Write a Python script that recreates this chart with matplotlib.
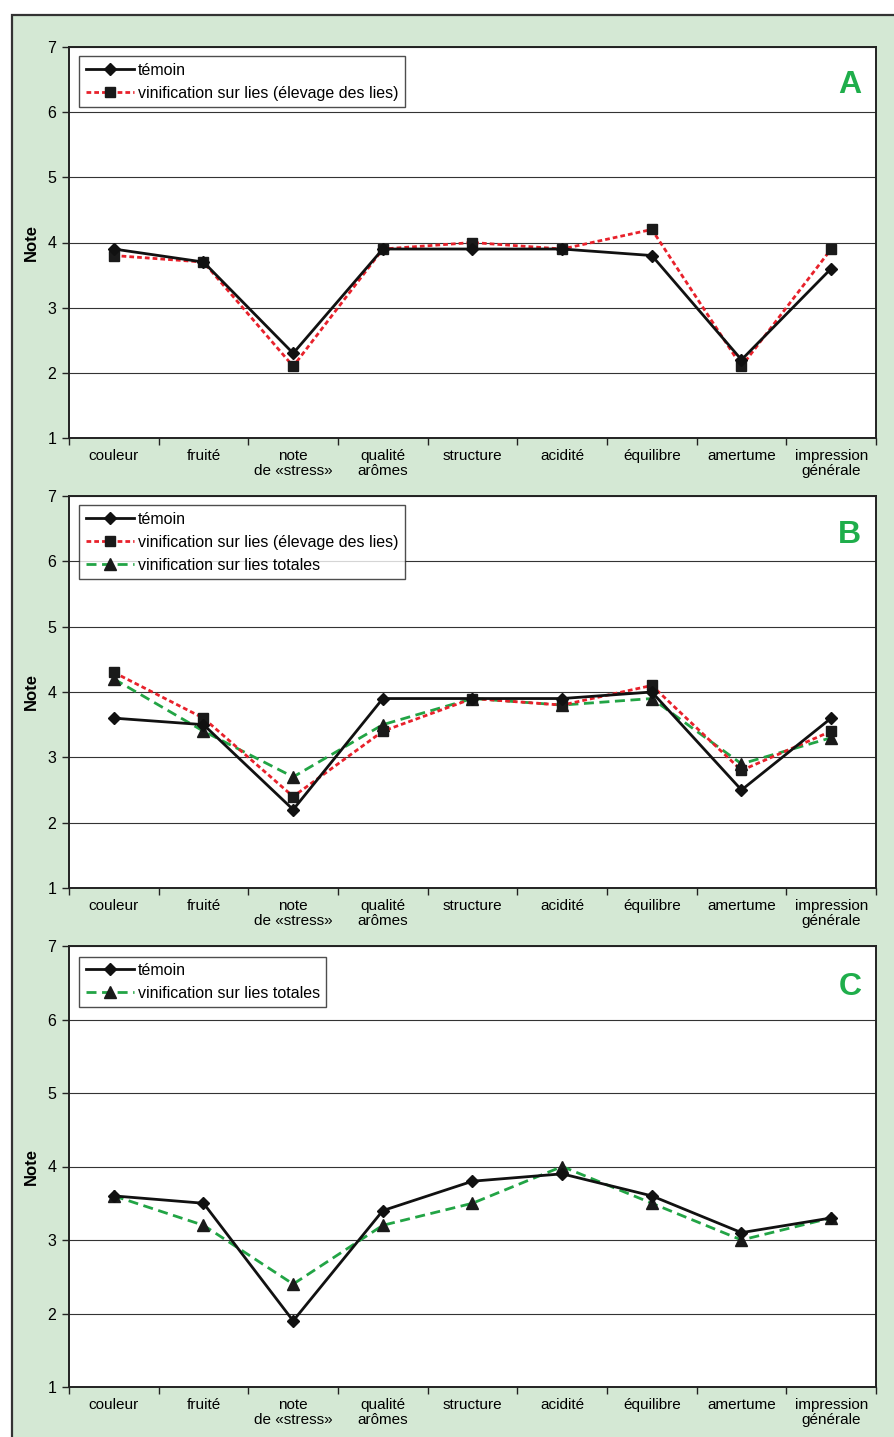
import matplotlib
matplotlib.use("Agg")
import matplotlib.pyplot as plt
from matplotlib.patches import Rectangle

plt.rcParams['font.family'] = ['Liberation Sans', 'DejaVu Sans']

categories = ['couleur', 'fruité', 'note\nde «stress»', 'qualité\narômes', 'structure',
              'acidité', 'équilibre', 'amertume', 'impression\ngénérale']

# panel A
a_temoin = [3.9, 3.7, 2.3, 3.9, 3.9, 3.9, 3.8, 2.2, 3.6]
a_lies = [3.8, 3.7, 2.1, 3.9, 4.0, 3.9, 4.2, 2.1, 3.9]
# panel B
b_temoin = [3.6, 3.5, 2.2, 3.9, 3.9, 3.9, 4.0, 2.5, 3.6]
b_lies = [4.3, 3.6, 2.4, 3.4, 3.9, 3.8, 4.1, 2.8, 3.4]
b_totales = [4.2, 3.4, 2.7, 3.5, 3.9, 3.8, 3.9, 2.9, 3.3]
# panel C
c_temoin = [3.6, 3.5, 1.9, 3.4, 3.8, 3.9, 3.6, 3.1, 3.3]
c_totales = [3.6, 3.2, 2.4, 3.2, 3.5, 4.0, 3.5, 3.0, 3.3]

lbl_temoin = 'témoin'
lbl_lies = 'vinification sur lies (élevage des lies)'
lbl_totales = 'vinification sur lies totales'

GREEN_BG = '#d4e8d4'
RED = '#e8212b'
GREEN = '#22a445'
LETTER = '#1fae4b'

fig = plt.figure(figsize=(8.95, 14.37), dpi=100)
fig.patches.append(Rectangle((12 / 895, -0.01), 1.0, 1 - 15 / 1437 + 0.01,
                             transform=fig.transFigure, facecolor=GREEN_BG,
                             edgecolor='#333333', linewidth=1.6, zorder=-10))


def style_series(ax, x, vals, kind, label):
    if kind == 'temoin':
        ax.plot(x, vals, color='#111111', lw=2.0, marker='D', ms=6,
                mec='#111111', mfc='#111111', label=label, zorder=5)
    elif kind == 'lies':
        ax.plot(x, vals, color=RED, lw=2.0, ls=(0, (1.7, 1.1)), marker='s', ms=7,
                mec='#1a1a1a', mfc='#1a1a1a', label=label, zorder=4)
    else:
        ax.plot(x, vals, color=GREEN, lw=2.0, ls=(0, (3.6, 2.0)), marker='^', ms=8,
                mec='#1a1a1a', mfc='#1a1a1a', label=label, zorder=3)


def make_panel(rect, series, letter):
    ax = fig.add_axes(rect)
    ax.set_zorder(1)
    ax.set_facecolor('white')
    n = len(categories)
    x = list(range(n))
    for vals, kind, label in series:
        style_series(ax, x, vals, kind, label)
    ax.set_xlim(-0.5, n - 0.5)
    ax.set_ylim(1, 7)
    ax.set_yticks(range(1, 8))
    ax.tick_params(axis='y', direction='out', length=5, width=1, labelsize=11.5,
                   color='#222222', pad=4)
    ax.set_xticks([i - 0.5 for i in range(n + 1)])
    ax.set_xticklabels([])
    ax.set_xticks(x, minor=True)
    ax.set_xticklabels(categories, minor=True, fontsize=11, linespacing=1.12)
    ax.tick_params(axis='x', which='major', direction='out', length=5, width=1, color='#222222')
    ax.tick_params(axis='x', which='minor', length=0, pad=8)
    ax.yaxis.grid(True, color='#333333', lw=0.8)
    ax.set_axisbelow(True)
    for s in ax.spines.values():
        s.set_color('#222222')
        s.set_linewidth(1.4)
    ax.set_ylabel('Note', fontsize=12, fontweight='bold', labelpad=6)
    leg = ax.legend(loc='upper left', bbox_to_anchor=(0.013, 0.976), fontsize=11.5,
                    frameon=True, fancybox=False, handlelength=3.0, handletextpad=0.25,
                    borderpad=0.4, labelspacing=0.5, borderaxespad=0)
    leg.get_frame().set_edgecolor('#222222')
    leg.get_frame().set_linewidth(1.0)
    ax.text(0.982, 0.94, letter, transform=ax.transAxes, ha='right', va='top',
            fontsize=23, fontweight='bold', color=LETTER)
    return ax


make_panel([69 / 895, 1 - 438 / 1437, (876 - 69) / 895, (438 - 47) / 1437],
           [(a_temoin, 'temoin', lbl_temoin), (a_lies, 'lies', lbl_lies)], 'A')
make_panel([69 / 895, 1 - 888 / 1437, (876 - 69) / 895, (888 - 496) / 1437],
           [(b_temoin, 'temoin', lbl_temoin), (b_lies, 'lies', lbl_lies),
            (b_totales, 'totales', lbl_totales)], 'B')
make_panel([69 / 895, 1 - 1387 / 1437, (876 - 69) / 895, (1387 - 946) / 1437],
           [(c_temoin, 'temoin', lbl_temoin), (c_totales, 'totales', lbl_totales)], 'C')

fig.savefig('out.png', dpi=100)
